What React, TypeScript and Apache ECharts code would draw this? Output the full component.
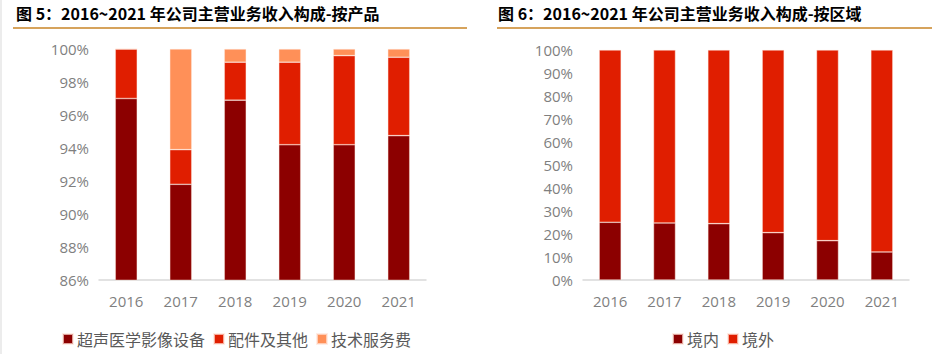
import React, { useEffect, useRef } from "react";
import * as echarts from "echarts";

const years = ["2016", "2017", "2018", "2019", "2020", "2021"];
const productNames = ["超声医学影像设备", "配件及其他", "技术服务费"];
const ultrasound = [97.0, 91.8, 96.9, 94.2, 94.2, 94.75];
const accessories = [3.0, 2.1, 2.3, 5.0, 5.4, 4.75];
const service = [0, 6.1, 0.8, 0.8, 0.4, 0.5];
const regionNames = ["境内", "境外"];
const domestic = [25.1, 24.8, 24.5, 20.6, 17.1, 12.2];
const overseas = domestic.map((v) => +(100 - v).toFixed(1));
const title1 = "图 5：2016~2021 年公司主营业务收入构成-按产品";
const title2 = "图 6：2016~2021 年公司主营业务收入构成-按区域";

const C_DARK = "#8c0000";
const C_RED = "#e01e00";
const C_LIGHT = "#ff9058";
const LABEL_FONT = "'Open Sans', 'Noto Sans', sans-serif";
const CJK_FONT = "'Noto Sans CJK SC', sans-serif";

export default function App() {
  const ref = useRef<HTMLDivElement>(null);
  useEffect(() => {
    if (!ref.current) return;
    const chart = echarts.init(ref.current, undefined, { renderer: "svg" });
    const axisLabel = { color: "#7f7f7f", fontSize: 15, fontFamily: LABEL_FONT };
    const xAxisBase = {
      type: "category" as const,
      data: years,
      axisTick: { show: false },
      axisLine: { lineStyle: { color: "#d9d9d9", width: 1.5 } },
      axisLabel: { ...axisLabel, margin: 13 },
    };
    const yAxisBase = {
      type: "value" as const,
      splitLine: { show: false },
      axisLine: { show: false },
      axisTick: { show: false },
      axisLabel: { ...axisLabel, margin: 10, formatter: "{value}%" },
    };
    const barBase = {
      type: "bar" as const,
      barWidth: 22,
      itemStyle: { borderColor: "rgba(255,230,220,0.7)", borderWidth: 0.6 },
    };
    const legendBase = {
      orient: "horizontal" as const,
      itemWidth: 10,
      itemHeight: 10,
      itemGap: 8,
      padding: 0,
      icon: "rect",
      textStyle: { color: "#595959", fontSize: 16, lineHeight: 16, fontFamily: CJK_FONT, padding: [0, 0, 0, -1] },
    };
    chart.setOption({
      animation: false,
      backgroundColor: "#ffffff",
      grid: [
        { left: 99, right: 506, top: 49, bottom: 74 },
        { left: 583, right: 23, top: 50, bottom: 74 },
      ],
      xAxis: [
        { ...xAxisBase, gridIndex: 0 },
        { ...xAxisBase, gridIndex: 1 },
      ],
      yAxis: [
        { ...yAxisBase, gridIndex: 0, min: 86, max: 100, interval: 2 },
        { ...yAxisBase, gridIndex: 1, min: 0, max: 100, interval: 10 },
      ],
      legend: [
        { ...legendBase, left: 62, top: 331, data: productNames },
        { ...legendBase, left: 672, top: 331, data: regionNames },
      ],
      series: [
        { ...barBase, name: productNames[0], stack: "p", xAxisIndex: 0, yAxisIndex: 0, data: ultrasound, itemStyle: { ...barBase.itemStyle, color: C_DARK } },
        { ...barBase, name: productNames[1], stack: "p", xAxisIndex: 0, yAxisIndex: 0, data: accessories, itemStyle: { ...barBase.itemStyle, color: C_RED } },
        { ...barBase, name: productNames[2], stack: "p", xAxisIndex: 0, yAxisIndex: 0, data: service, itemStyle: { ...barBase.itemStyle, color: C_LIGHT } },
        { ...barBase, name: regionNames[0], stack: "r", xAxisIndex: 1, yAxisIndex: 1, data: domestic, itemStyle: { ...barBase.itemStyle, color: C_DARK } },
        { ...barBase, name: regionNames[1], stack: "r", xAxisIndex: 1, yAxisIndex: 1, data: overseas, itemStyle: { ...barBase.itemStyle, color: C_RED } },
      ],
      graphic: [
        { type: "rect", shape: { x: 0, y: 0, width: 2, height: 354 }, style: { fill: "#ececec" }, silent: true },
        {
          type: "text", x: 16, y: 13,
          style: { text: title1, fill: "#000", font: `bold 16px ${CJK_FONT}`, verticalAlign: "middle" },
        },
        {
          type: "text", x: 498, y: 13,
          style: { text: title2, fill: "#000", font: `bold 16px ${CJK_FONT}`, verticalAlign: "middle" },
        },
        { type: "line", shape: { x1: 13, y1: 28, x2: 467, y2: 28 }, style: { stroke: "#d6a35c", lineWidth: 2 } },
        { type: "line", shape: { x1: 497, y1: 28, x2: 932, y2: 28 }, style: { stroke: "#d6a35c", lineWidth: 2 } },
      ],
    });
    return () => chart.dispose();
  }, []);
  return <div ref={ref} style={{ position: "absolute", left: 0, top: 0, width: 932, height: 354 }} />;
}
